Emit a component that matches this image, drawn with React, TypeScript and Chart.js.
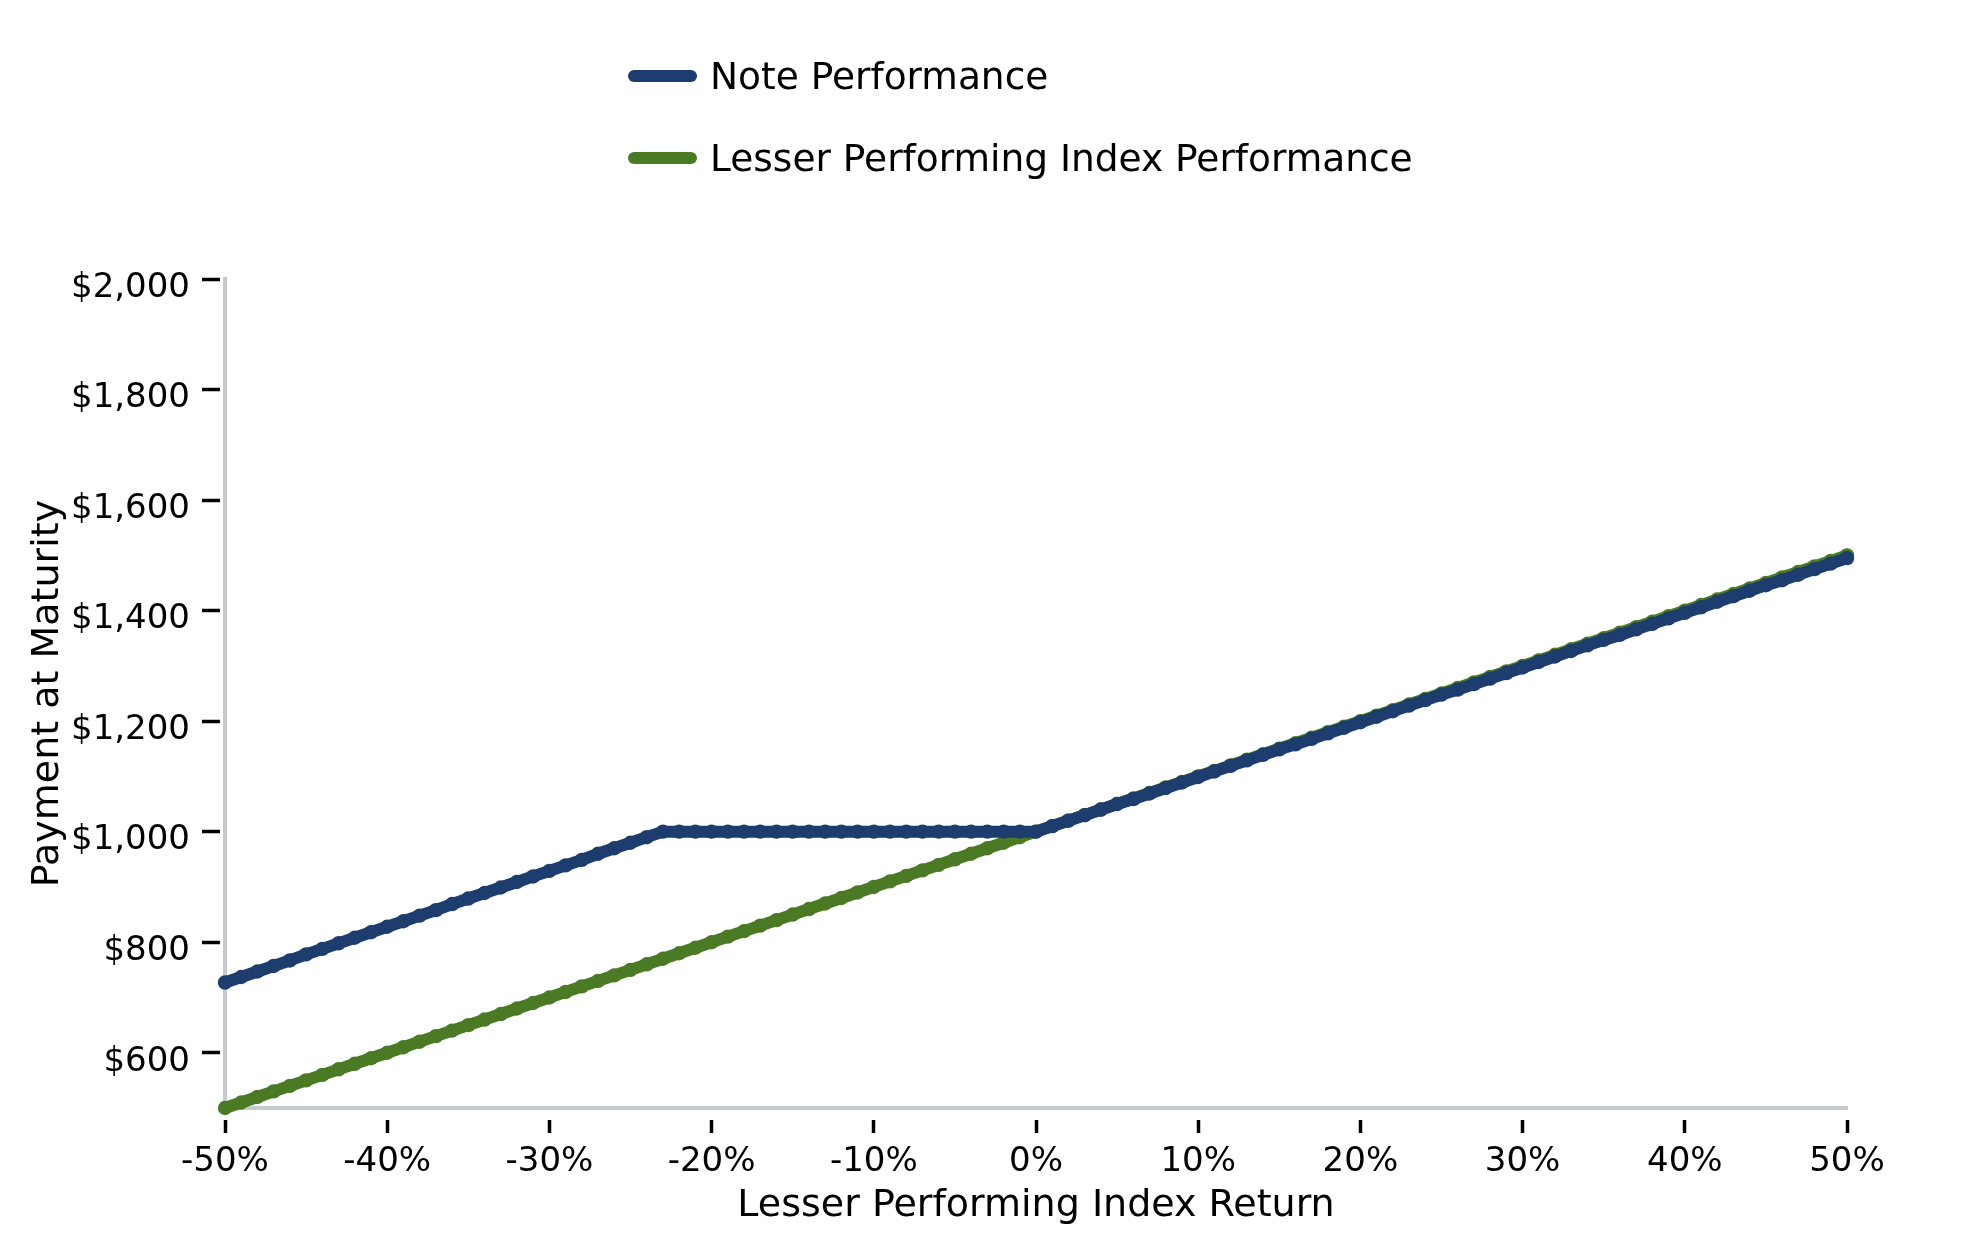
import { useEffect, useRef } from 'react'
import { Chart, registerables } from 'chart.js'

Chart.register(...registerables)

// lesser performing index return, in percent
const returns = [
  -50, -49, -48, -47, -46, -45, -44, -43, -42, -41,
  -40, -39, -38, -37, -36, -35, -34, -33, -32, -31,
  -30, -29, -28, -27, -26, -25, -24, -23, -22, -21,
  -20, -19, -18, -17, -16, -15, -14, -13, -12, -11,
  -10, -9, -8, -7, -6, -5, -4, -3, -2, -1,
  0, 1, 2, 3, 4, 5, 6, 7, 8, 9,
  10, 11, 12, 13, 14, 15, 16, 17, 18, 19,
  20, 21, 22, 23, 24, 25, 26, 27, 28, 29,
  30, 31, 32, 33, 34, 35, 36, 37, 38, 39,
  40, 41, 42, 43, 44, 45, 46, 47, 48, 49,
  50,
]

const notePayment = [
  727, 737, 747, 757, 767, 778, 788, 798, 808, 818,
  828, 838, 848, 858, 869, 879, 889, 899, 909, 919,
  929, 939, 949, 960, 970, 980, 990, 1000, 1000, 1000,
  1000, 1000, 1000, 1000, 1000, 1000, 1000, 1000, 1000, 1000,
  1000, 1000, 1000, 1000, 1000, 1000, 1000, 1000, 1000, 1000,
  1000, 1010, 1020, 1030, 1040, 1050, 1059, 1069, 1079, 1089,
  1099, 1109, 1119, 1129, 1139, 1149, 1158, 1168, 1178, 1188,
  1198, 1208, 1218, 1228, 1238, 1248, 1257, 1267, 1277, 1287,
  1297, 1307, 1317, 1327, 1337, 1347, 1356, 1366, 1376, 1386,
  1396, 1406, 1416, 1426, 1436, 1446, 1455, 1465, 1475, 1485,
  1495,
]

const indexPayment = [
  500, 510, 520, 530, 540, 550, 560, 570, 580, 590,
  600, 610, 620, 630, 640, 650, 660, 670, 680, 690,
  700, 710, 720, 730, 740, 750, 760, 770, 780, 790,
  800, 810, 820, 830, 840, 850, 860, 870, 880, 890,
  900, 910, 920, 930, 940, 950, 960, 970, 980, 990,
  1000, 1010, 1020, 1030, 1040, 1050, 1060, 1070, 1080, 1090,
  1100, 1110, 1120, 1130, 1140, 1150, 1160, 1170, 1180, 1190,
  1200, 1210, 1220, 1230, 1240, 1250, 1260, 1270, 1280, 1290,
  1300, 1310, 1320, 1330, 1340, 1350, 1360, 1370, 1380, 1390,
  1400, 1410, 1420, 1430, 1440, 1450, 1460, 1470, 1480, 1490,
  1500,
]

const xTicks = [-50, -40, -30, -20, -10, 0, 10, 20, 30, 40, 50]
const yTicks = [600, 800, 1000, 1200, 1400, 1600, 1800, 2000]

const seriesNames = ['Note Performance', 'Lesser Performing Index Performance']
const xTitle = 'Lesser Performing Index Return'
const yTitle = 'Payment at Maturity'

const colors = ['#1c3d6e', '#4b7a24']
const axisGrey = '#c6cbd1'
const FONT = '"DejaVu Sans", sans-serif'
const legendTops = [56, 138]

export default function App() {
  const ref = useRef<HTMLCanvasElement>(null)

  useEffect(() => {
    if (!ref.current) return
    const series = [notePayment, indexPayment]
    const chart = new Chart(ref.current, {
      type: 'line',
      data: {
        datasets: series.map((vals, i) => ({
          label: seriesNames[i],
          data: returns.map((x, j) => ({ x, y: vals[j] })),
          borderColor: colors[i],
          backgroundColor: colors[i],
          pointBackgroundColor: colors[i],
          borderWidth: 12,
          pointRadius: 7.2,
          pointBorderWidth: 0,
          tension: 0,
          clip: false,
        })),
      },
      options: {
        animation: false,
        responsive: false,
        devicePixelRatio: 1,
        layout: { padding: { left: 0, right: 132, top: 279, bottom: 0 } },
        plugins: { legend: { display: false }, tooltip: { enabled: false } },
        scales: {
          x: {
            type: 'linear',
            min: -50,
            max: 50,
            afterFit: (s: any) => { s.height = 142 },
            afterBuildTicks: (s: any) => { s.ticks = xTicks.map(v => ({ value: v })) },
            border: { display: true, color: axisGrey, width: 4 },
            grid: {
              drawOnChartArea: false,
              drawTicks: true,
              tickLength: 25,
              tickWidth: 3.5,
              tickColor: '#000',
              tickBorderDash: [13, 100],
              tickBorderDashOffset: 103,
            },
            ticks: {
              color: '#000',
              font: { family: FONT, size: 34 },
              padding: 9,
              maxRotation: 0,
              autoSkip: false,
              callback: (v: any) => v + '%',
            },
            title: {
              display: true,
              text: xTitle,
              color: '#000',
              font: { family: FONT, size: 38 },
              padding: { top: 0, bottom: 21 },
            },
          },
          y: {
            type: 'linear',
            min: 500,
            max: 2000,
            afterFit: (s: any) => { s.width = 225 },
            afterBuildTicks: (s: any) => { s.ticks = yTicks.map(v => ({ value: v })) },
            border: { display: true, color: axisGrey, width: 4 },
            grid: {
              drawOnChartArea: false,
              drawTicks: true,
              tickLength: 23,
              tickWidth: 3.5,
              tickColor: '#000',
              tickBorderDash: [18, 100],
              tickBorderDashOffset: 0,
            },
            ticks: {
              color: '#000',
              font: { family: FONT, size: 34 },
              padding: 12,
              labelOffset: 9,
              callback: (v: any) => '$' + Number(v).toLocaleString('en-US'),
            },
            title: {
              display: true,
              text: yTitle,
              color: '#000',
              font: { family: FONT, size: 38 },
              padding: { top: 25, bottom: 0 },
            },
          },
        },
      },
    })
    return () => chart.destroy()
  }, [])

  return (
    <div style={{ position: 'absolute', left: 0, top: 0, width: 1979, height: 1250, background: '#fff' }}>
      <canvas ref={ref} width={1979} height={1250} style={{ display: 'block' }} />
      {seriesNames.map((name, i) => (
        <div
          key={name}
          style={{
            position: 'absolute', left: 628, top: legendTops[i], height: 40,
            display: 'flex', alignItems: 'center',
            font: `37.5px ${FONT}`, color: '#000', whiteSpace: 'nowrap',
          }}
        >
          <span style={{ display: 'inline-block', width: 69, height: 12, borderRadius: 6, background: colors[i], marginRight: 13 }} />
          {name}
        </div>
      ))}
    </div>
  )
}
